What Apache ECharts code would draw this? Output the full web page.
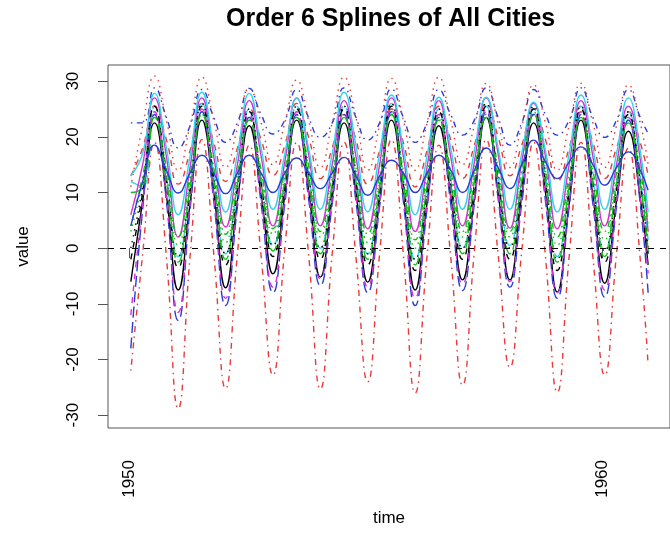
<!DOCTYPE html>
<html>
<head>
<meta charset="utf-8">
<script src="https://cdn.jsdelivr.net/npm/echarts@6/dist/echarts.min.js"></script>
<style>
html,body{margin:0;padding:0;background:#fff;}
#chart{width:670px;height:533px;}
</style>
</head>
<body>
<div id="chart"></div>
<script>
// Sample times: mid-month of Jan, Apr, Jul, Oct for each year, plus Dec 1960
const years = [1950,1951,1952,1953,1954,1955,1956,1957,1958,1959,1960];
const monthOffsets = [0.0417, 0.2917, 0.5417, 0.7917];
const lastTime = 1960.9583;

const xTicks = [1950, 1960];
const yTicks = [-30, -20, -10, 0, 10, 20, 30];

// Series values (Jan, Apr, Jul, Oct per year 1950..1960, then Dec 1960)
const s1 = [-6,8.5,22.5,9.5, -7.5,8,23,10, -7.1,8.5,22,9.5, -4.6,9.5,23,10.5, -5.2,9,22.5,10, -6.1,8.5,23,9.5, -7.5,8,22,9.5, -5.7,9,23.5,10, -5.7,9.5,22.5,10, -7.9,8,23,9.5, -6.3,8.5,21,9, -3];
const s2 = [13,18,25.5,19.5, 11.5,17.5,26,19, 12,18,25,19.5, 13,18.5,26,20, 12.5,18,25.5,19.5, 11.5,17.5,25,19, 11,17.5,25.5,19.5, 12.5,18.5,26,20, 13,18.5,25,19.5, 12,18,25.5,19, 12.5,18,24.5,19, 13];
const s3 = [3,12,24,14, 0.5,12,24.5,14, 1,12.5,23.5,13.5, 2.5,13,24,14.5, 2,12.5,24,14, 1,12,24.5,13.5, 0,12,23.5,13.5, 2,13,24,14, 2,13,24.5,14, 0.5,12,24,13.5, 1.5,12.5,23,13, 3];
const s4 = [22.5,22.5,28.8,23.5, 18,22,28.5,23.5, 19,22.5,28.7,24, 20.5,23,28.5,23.5, 19.9,22.5,28.8,23.5, 19.4,22.5,28.6,23.5, 19,22.5,28.5,24, 20.3,23,28.8,23.5, 18.5,22.5,28.5,24, 20.3,23,28.8,23.5, 19.9,23,28.5,23.5, 20.6];
const s5 = [12,11,25.5,13, -1.5,11,26,13, -1,11.5,25,12.5, 0.5,12,25.5,13.5, 0,11.5,25.5,13, -1,11,26,12.5, -2,11,25,12.5, 0,12,25.5,13, 0.5,12,25,13, -1.5,11,25.5,12.5, -0.5,11.5,24.5,12.5, 1.5];
const s6 = [6,15,27,16.5, 2,14.5,27,16.5, 3.8,15,26.5,16.5, 4,15.5,27,17, 4,15,26.5,16.5, 3.5,15,27,16.5, 3,14.5,26.5,16.5, 4,15.5,27,17, 3.6,15.5,26,16.5, 3.5,15,26.5,16.5, 4,15,25.5,16, 3];
const s7 = [-2,10,25.5,12, -3.5,10,25.5,12, -3,10.5,24.5,11.5, -1.5,11,25,12.5, -2,10.5,25,12, -3,10,25.5,11.5, -4,10,24.5,11.5, -2,11,25.5,12, -2,11,25,12, -4,10,25,11.5, -2.5,10.5,24,11.5, -1];
const s8 = [11,22,30.9,23, 14,22,30.7,23, 14.5,21.5,28.7,22.5, 15,22.5,30.2,23, 14.5,22.5,30.7,23.5, 14,22,30.5,23, 14,22.5,30.7,23, 15,22,29.6,22.5, 14.5,22,29.3,22.5, 14,22,29.6,22.5, 14.5,22,29.3,22.5, 15];
const s9 = [4,13,23.5,14.5, 2,13,24,14.5, 2.5,13.5,23,14, 3.5,14,23.5,15, 3,13.5,23.5,14.5, 2.5,13,24,14, 1.5,13,23,14, 3,14,23.5,14.5, 3,14,24,14.5, 2,13,23.5,14, 3,13.5,22.5,14, 4];
const s10 = [-18,7,24,8.5, -13,7,24.5,8.5, -10.3,7.5,23.5,8, -8,8,24,9, -6.7,8,24,8.5, -8,7.5,24.5,8.5, -10.3,7,23.5,8, -7.6,8,24.5,9, -7,8,24,8.5, -9,7.5,24,8, -8.8,7.5,23,8, -8];
const s11 = [13,17,27.8,18, 6,16.5,28,18, 6.5,17,27.8,18, 7,17,26.9,18, 7,17,28,18.5, 6.5,17,27.5,18, 6,16.5,27.1,18, 7,17.5,27.1,18, 7,17,26.2,17.5, 6.5,17,27.5,18, 7,17,27,17.5, 6.5];
const s12 = [-12,8,24.5,9.5, -11.5,8,25,9.5, -9,8.5,24,9, -7,9,24.5,10, -5.5,9,24.5,9.5, -7,8.5,25,9.5, -9,8,24,9, -6.5,9,25,10, -6,9,24.5,9.5, -8,8.5,24.5,9, -7.5,8.5,23.5,9, -4.5];
const s13 = [0,11,25.5,12.5, -1.5,11,26,12.5, -1,11.5,25,12, 0.5,11.5,25.5,13, 0,11,25.5,12.5, -1,11,26,12, -2,10.5,25,12, 0,11.5,26,12.5, 0,11.5,25.5,12.5, -2,11,25.5,12, -0.5,11,24.5,12, 0];
const s14 = [-22,-1,19,-1.5, -28.8,-1.5,19.5,-1, -25.2,-1,18.5,-1.5, -22.8,0,19,-1, -25.3,-1,19,-1.5, -24,-1,19.5,-1, -26,-1.5,18.5,-1.5, -24.6,-0.5,19.5,-1, -21.4,-0.5,19,-1.5, -25.9,-1.5,19,-1.5, -22.8,-1,18,-2, -21];
const s15 = [10,11,23.5,12, -2.5,11,24,12, -2,11.5,23,11.5, -0.5,12,23.5,12.5, -1,11.5,23.5,12, -2,11,24,11.5, -3,11,23,11.5, -1,12,23.5,12, -1,12,24,12, -2.5,11,23.5,11.5, -1.5,11.5,22.5,11.5, -0.5];
const s16 = [4,12,18.5,14, 9.9,13.5,16.7,13.5, 9.8,13.5,16.7,13.5, 10,13.5,16.2,13.5, 10.7,13.5,16.3,13, 9.5,13,15.8,13.5, 10,13.5,16.7,14, 10,14,18,14.5, 10.7,15,19.4,15.5, 12.5,15.5,18.2,15, 11.3,14.5,17.3,14, 10.4];

const allSeries = [s1,s2,s3,s4,s5,s6,s7,s8,s9,s10,s11,s12,s13,s14,s15,s16];

// R-style palette and line types cycling
const palette = ['#000000','#e83a3a','#10c010','#2a3ad8','#30d4ec','#d630d6'];
const ltys = ['solid',[6,6],[1.5,4.5],[1.5,4.5,6,4.5],[11,4.5]];

const times = [];
years.forEach(y => monthOffsets.forEach(o => times.push(y + o)));
times.push(lastTime);

const series = allSeries.map((vals, i) => ({
  type: 'line',
  name: 'city' + (i+1),
  data: vals.map((v, k) => [times[k], v]),
  smooth: 0.5,
  symbol: 'none',
  lineStyle: { color: palette[i % 6], width: 1.4, type: ltys[i % 5] },
  z: 2 + i * 0.01
}));

series.push({
  type: 'line',
  name: 'zero',
  data: [],
  markLine: {
    silent: true,
    symbol: 'none',
    label: { show: false },
    lineStyle: { color: '#000', width: 1, type: [6, 6] },
    data: [{ yAxis: 0 }]
  }
});

const chart = echarts.init(document.getElementById('chart'), null, { renderer: 'canvas' });
chart.setOption({
  animation: false,
  backgroundColor: '#fff',
  title: {
    text: 'Order 6 Splines of All Cities',
    left: 226, top: 7, padding: 0,
    textStyle: { fontFamily: 'Liberation Sans', fontSize: 25, fontWeight: 'bold', color: '#000' }
  },
  grid: {
    left: 108, top: 65, width: 570, height: 363,
    show: true, borderColor: '#555', borderWidth: 1, backgroundColor: 'transparent'
  },
  xAxis: {
    type: 'value', min: 1949.56, max: 1961.42,
    name: 'time', nameLocation: 'middle', nameGap: 82,
    nameTextStyle: { fontFamily: 'Liberation Sans', fontSize: 17, color: '#000' },
    axisLine: { show: false },
    splitLine: { show: false },
    axisTick: { show: true, length: 10, inside: false, customValues: xTicks, lineStyle: { color: '#555' } },
    axisLabel: { show: true, rotate: 90, margin: 32, customValues: xTicks,
      formatter: v => String(Math.round(v)),
      fontFamily: 'Liberation Sans', fontSize: 17, color: '#000' }
  },
  yAxis: {
    type: 'value', min: -32.3, max: 32.9,
    name: 'value', nameLocation: 'middle', nameGap: 76,
    nameTextStyle: { fontFamily: 'Liberation Sans', fontSize: 17, color: '#000' },
    axisLine: { show: false },
    splitLine: { show: false },
    axisTick: { show: true, length: 10, customValues: yTicks, lineStyle: { color: '#555' } },
    axisLabel: { show: true, rotate: 90, margin: 26, customValues: yTicks,
      formatter: v => String(Math.round(v)),
      fontFamily: 'Liberation Sans', fontSize: 17, color: '#000' }
  },
  series: series
});
</script>
</body>
</html>
